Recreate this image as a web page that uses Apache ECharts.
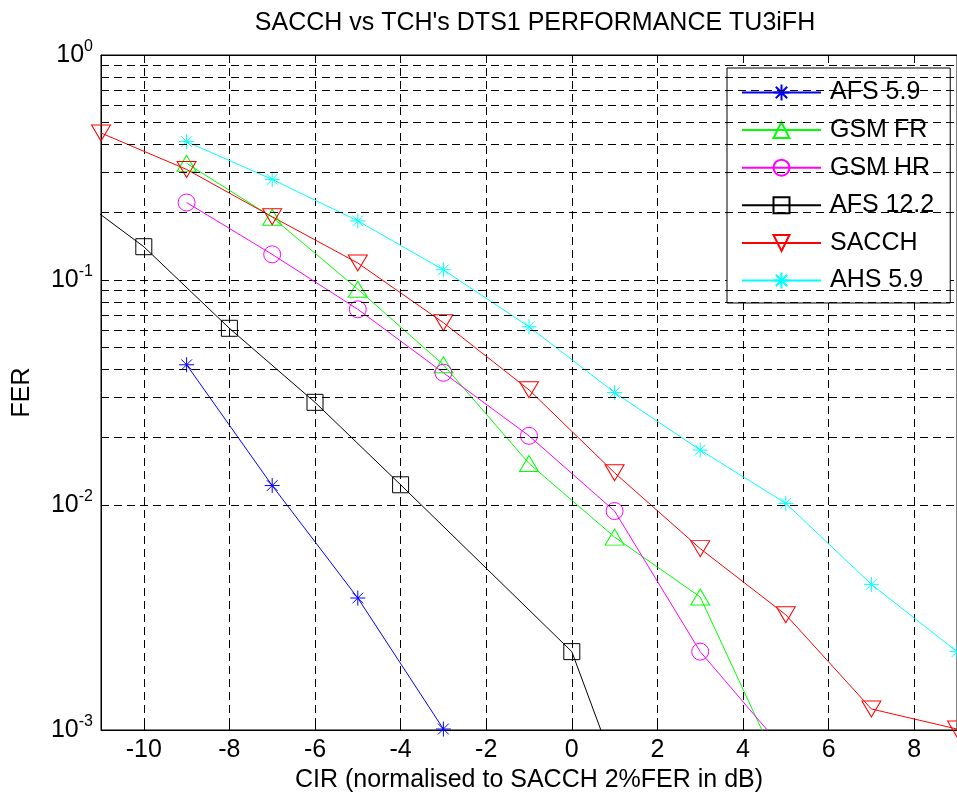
<!DOCTYPE html>
<html>
<head>
<meta charset="utf-8">
<script src="https://cdn.jsdelivr.net/npm/echarts@6/dist/echarts.min.js"></script>
<style>
  html, body { margin: 0; padding: 0; background: #fff; }
  #chart { width: 957px; height: 798px; }
</style>
</head>
<body>
<div id="chart"></div>
<script>
// CIR values (dB) and FER
var afs59X = [-9, -7, -5, -3];
var afs59Y = [0.042, 0.0122, 0.00386, 0.00101];

var gsmFrX = [-9, -7, -5, -3, -1, 1, 3, 5];
var gsmFrY = [0.33, 0.19, 0.091, 0.042, 0.0153, 0.0072, 0.0039, 0.00059];

var gsmHrX = [-9, -7, -5, -3, -1, 1, 3, 5];
var gsmHrY = [0.221, 0.130, 0.0741, 0.0387, 0.0203, 0.0094, 0.00223, 0.0008];

var afs122X = [-12, -10, -8, -6, -4, 0, 2];
var afs122Y = [0.27, 0.1406, 0.061, 0.0286, 0.0123, 0.00223, 0.00021];

var sacchX = [-11, -9, -7, -5, -3, -1, 1, 3, 5, 7, 9];
var sacchY = [0.45, 0.31, 0.191, 0.119, 0.0646, 0.0325, 0.0139, 0.0064, 0.00325, 0.00124, 0.00101];

var ahs59X = [-9, -7, -5, -3, -1, 1, 3, 5, 7, 9];
var ahs59Y = [0.412, 0.28, 0.183, 0.111, 0.062, 0.0316, 0.01755, 0.01017, 0.00444, 0.00223];

var xTicks = [-10, -8, -6, -4, -2, 0, 2, 4, 6, 8];
var decades = [-3, -2, -1, 0];

var FONT = "'Liberation Sans', Arial, Helvetica, sans-serif";
var asterisk = 'path://M7 0L7 14M0 7L14 7M2 2L12 12M2 12L12 2';

function pairs(xs, ys) {
  return xs.map(function (x, i) { return [x, ys[i]]; });
}

// minor log grid lines at 2..9 x 10^k
var minorLines = [];
decades.slice(0, 3).forEach(function (k) {
  for (var m = 2; m <= 9; m++) {
    minorLines.push({ yAxis: +(m * Math.pow(10, k)).toPrecision(3) });
  }
});

function makeSeries(name, xs, ys, color, symbol, size, rotate) {
  return {
    name: name,
    type: 'line',
    data: pairs(xs, ys),
    z: 3,
    symbol: symbol,
    symbolSize: size,
    symbolRotate: rotate || 0,
    showAllSymbol: true,
    clip: true,
    lineStyle: { color: color, width: 1 },
    itemStyle: { color: 'rgba(0,0,0,0)', borderColor: color, borderWidth: 1 },
    emphasis: { disabled: true }
  };
}

var chart = echarts.init(document.getElementById('chart'));

var option = {
  animation: false,
  backgroundColor: '#fff',
  textStyle: { fontFamily: FONT },
  title: {
    text: "SACCH vs TCH's DTS1 PERFORMANCE TU3iFH",
    left: 530,
    textAlign: 'center',
    top: 6,
    textStyle: { fontFamily: FONT, fontSize: 25, fontWeight: 'normal', color: '#000' }
  },
  legend: {
    orient: 'vertical',
    left: 727,
    top: 68,
    padding: [12, 16, 10, 14],
    itemWidth: 79,
    itemHeight: 20,
    itemGap: 12.6,
    backgroundColor: '#fff',
    borderColor: '#000',
    borderWidth: 1,
    borderRadius: 0,
    selectedMode: false,
    textStyle: { fontFamily: FONT, fontSize: 25, color: '#000', padding: [0, 0, 0, 4] },
    data: ['AFS 5.9', 'GSM FR', 'GSM HR', 'AFS 12.2', 'SACCH', 'AHS 5.9']
  },
  grid: {
    left: 101,
    top: 55,
    width: 858,
    height: 675,
    show: true,
    borderColor: '#000',
    borderWidth: 1,
    backgroundColor: 'rgba(0,0,0,0)'
  },
  xAxis: [{
    type: 'value',
    min: -11,
    max: 9,
    name: 'CIR (normalised to SACCH 2%FER in dB)',
    nameLocation: 'middle',
    nameGap: 38,
    nameTextStyle: { fontFamily: FONT, fontSize: 25, color: '#000' },
    axisLine: { show: true, onZero: false, lineStyle: { color: '#000', width: 1 } },
    axisTick: { show: true, inside: true, length: 8, customValues: xTicks, lineStyle: { color: '#000' } },
    axisLabel: { customValues: xTicks, margin: 8, fontFamily: FONT, fontSize: 25, color: '#000' },
    splitLine: { show: true, lineStyle: { color: '#000', type: [8, 5], width: 1 } }
  }, {
    type: 'value',
    position: 'top',
    min: -11,
    max: 9,
    axisLine: { show: true, onZero: false, lineStyle: { color: '#000' } },
    axisTick: { show: true, inside: true, length: 8, customValues: xTicks, lineStyle: { color: '#000' } },
    axisLabel: { show: false, customValues: xTicks },
    splitLine: { show: false }
  }],
  yAxis: {
    type: 'log',
    logBase: 10,
    min: 0.001,
    max: 1,
    name: 'FER',
    nameLocation: 'middle',
    nameGap: 66,
    nameTextStyle: { fontFamily: FONT, fontSize: 25, color: '#000' },
    axisLine: { show: true, onZero: false, lineStyle: { color: '#000', width: 1 } },
    axisTick: { show: true, inside: true, length: 8, lineStyle: { color: '#000' } },
    axisLabel: {
      margin: 8,
      formatter: function (v) {
        var e = Math.round(Math.log(v) / Math.LN10);
        return '{b|10}{s|' + e + '}';
      },
      rich: {
        b: { fontFamily: FONT, fontSize: 25, color: '#000' },
        s: { fontFamily: FONT, fontSize: 16, color: '#000', padding: [0, 0, 16, 0] }
      }
    },
    splitLine: { show: true, lineStyle: { color: '#000', type: [8, 5], width: 1 } }
  },
  series: [
    {
      type: 'line',
      name: 'minor-grid',
      data: [],
      z: 1,
      silent: true,
      markLine: {
        silent: true,
        symbol: ['none', 'none'],
        label: { show: false },
        lineStyle: { color: '#000', type: [8, 5], width: 1 },
        emphasis: { disabled: true },
        data: minorLines
      }
    },
    makeSeries('AFS 5.9', afs59X, afs59Y, '#0000ff', asterisk, 15),
    makeSeries('GSM FR', gsmFrX, gsmFrY, '#00ff00', 'triangle', [19, 16]),
    makeSeries('GSM HR', gsmHrX, gsmHrY, '#ff00ff', 'circle', 17),
    makeSeries('AFS 12.2', afs122X, afs122Y, '#000000', 'rect', 16),
    makeSeries('SACCH', sacchX, sacchY, '#ff0000', 'triangle', [19, 16], 180),
    makeSeries('AHS 5.9', ahs59X, ahs59Y, '#00ffff', asterisk, 15)
  ]
};

chart.setOption(option);
</script>
</body>
</html>
